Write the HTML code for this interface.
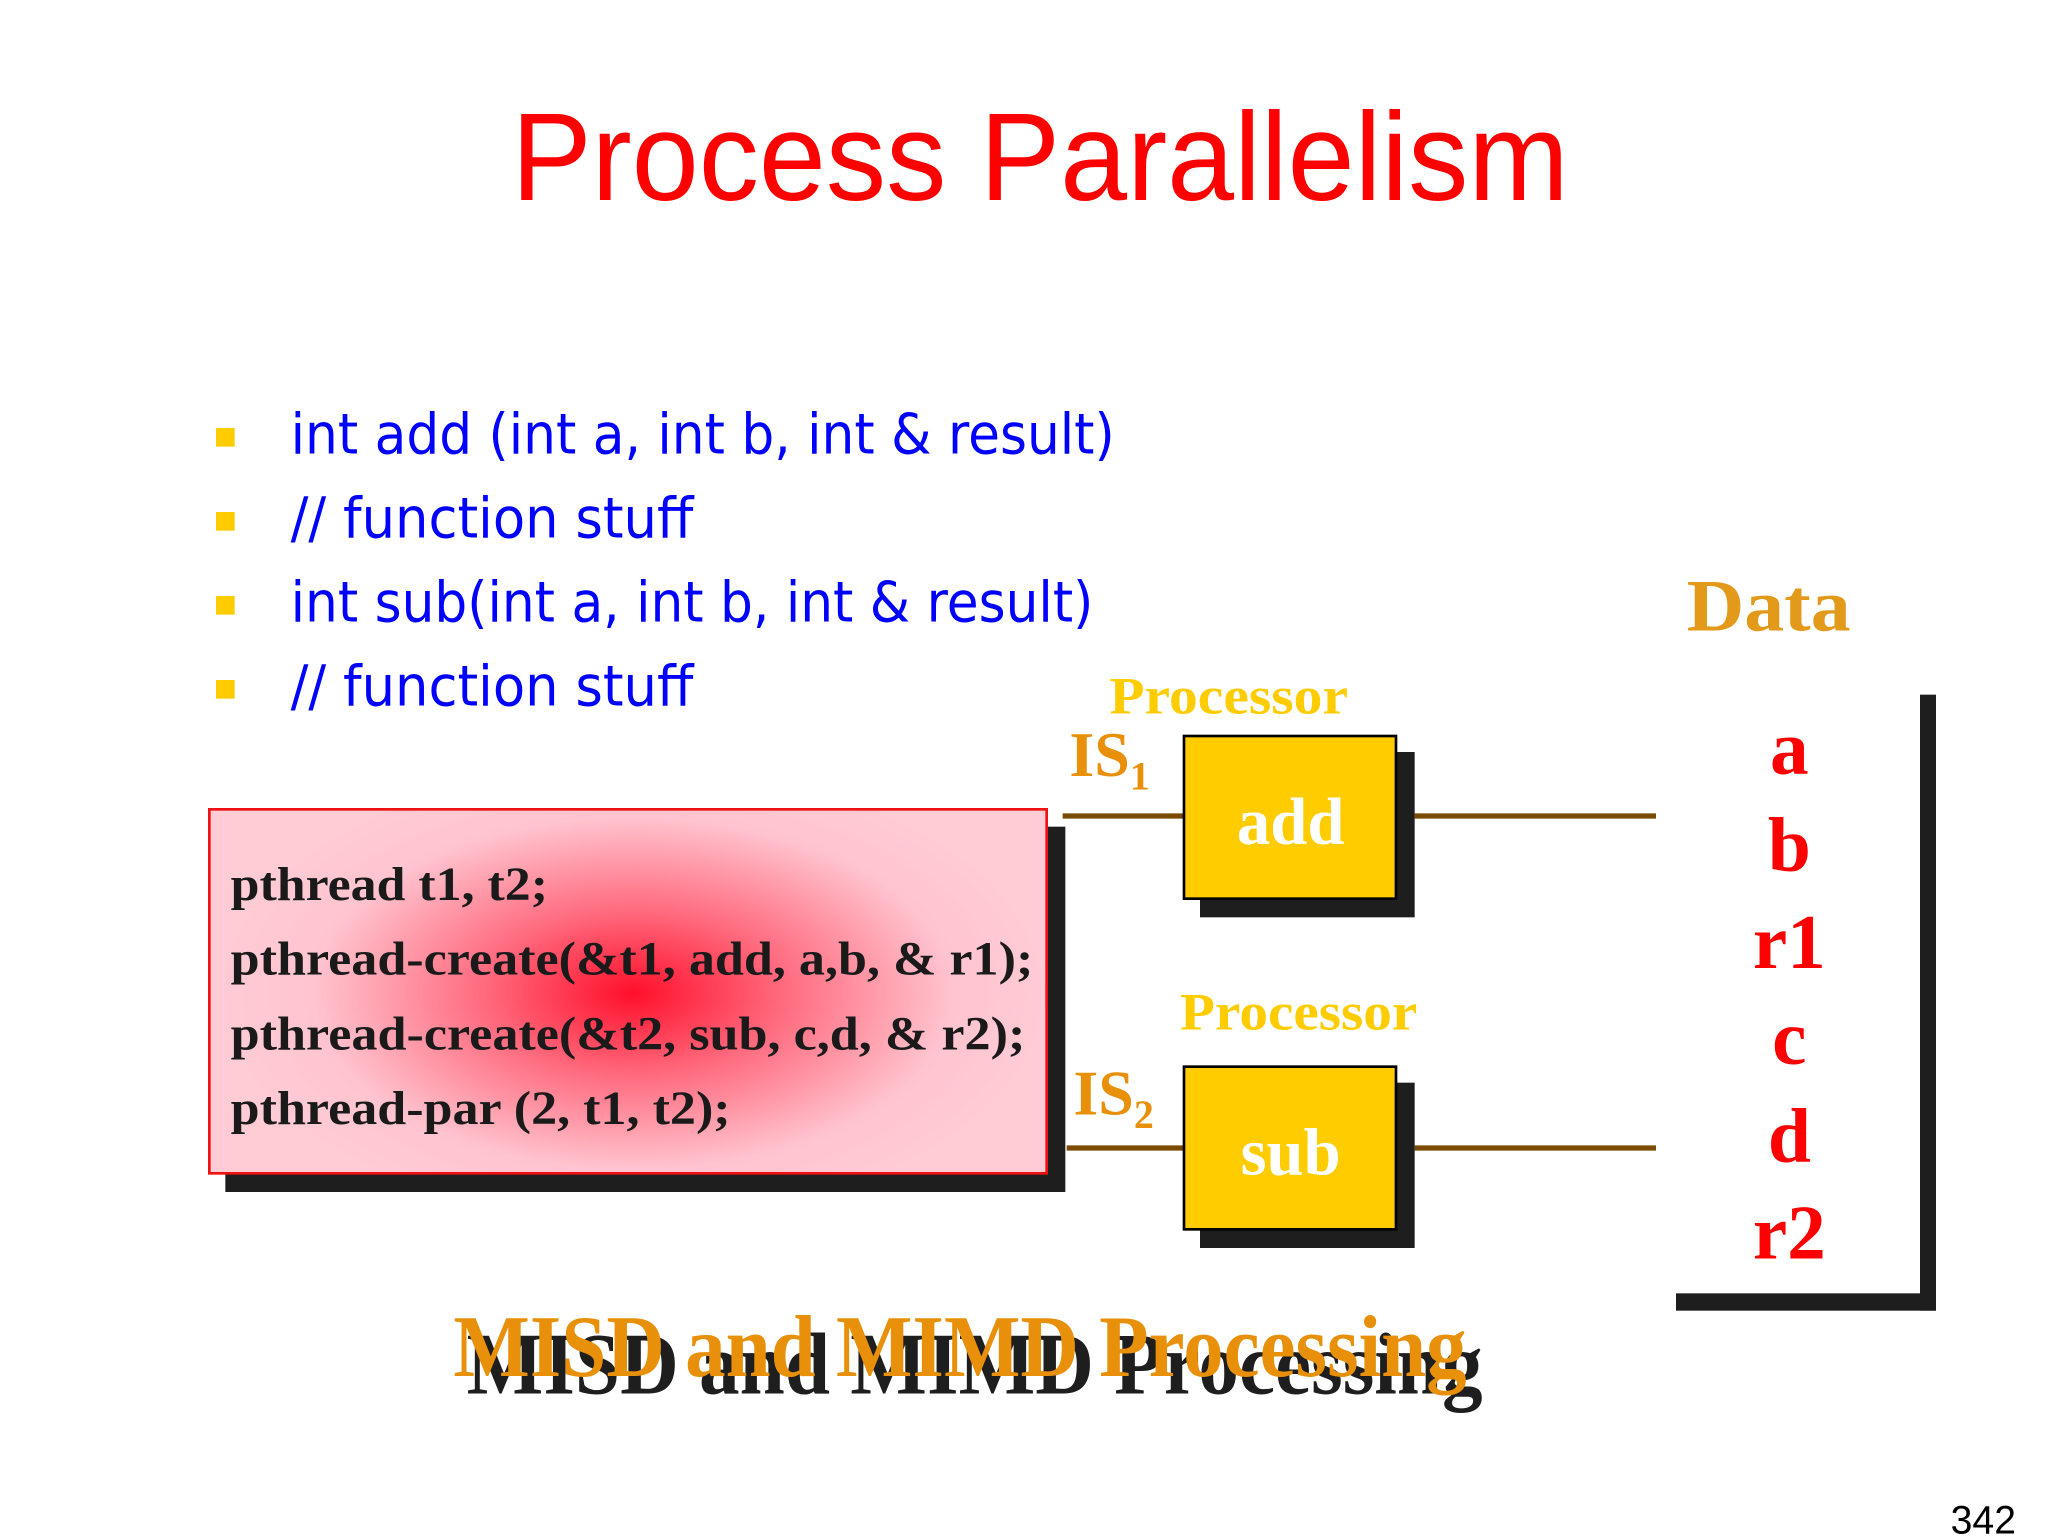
<!DOCTYPE html>
<html><head><meta charset="utf-8"><style>
html,body{margin:0;padding:0;background:#fff;width:2048px;height:1536px;overflow:hidden}
svg{display:block}
</style></head><body>
<svg width="2048" height="1536" viewBox="0 0 1536 1152" preserveAspectRatio="none" xmlns="http://www.w3.org/2000/svg">
<defs>
<radialGradient id="rg" cx="475" cy="745" r="320" gradientUnits="userSpaceOnUse" gradientTransform="translate(475 745) scale(1 0.55) translate(-475 -745)">
<stop offset="0" stop-color="#ff0f2a"/>
<stop offset="0.35" stop-color="#ff6a7e"/>
<stop offset="0.75" stop-color="#ffc4cf"/>
<stop offset="1" stop-color="#ffccd6"/>
</radialGradient>
</defs>
<rect width="1536" height="1152" fill="#fff"/>
<text x="780" y="150" text-anchor="middle" font-family="Liberation Sans, sans-serif" font-size="94" fill="#ff0000" textLength="793" lengthAdjust="spacingAndGlyphs">Process Parallelism</text>

<g fill="#ffcc00">
<rect x="162" y="321" width="14" height="14"/>
<rect x="162" y="384" width="14" height="14"/>
<rect x="162" y="447" width="14" height="14"/>
<rect x="162" y="510" width="14" height="14"/>
</g>
<g font-family="DejaVu Sans, sans-serif" font-size="42" fill="#0000ff">
<text x="218" y="340" textLength="618" lengthAdjust="spacingAndGlyphs">int add (int a, int b, int &amp; result)</text>
<text x="218" y="403" textLength="302" lengthAdjust="spacingAndGlyphs">// function stuff</text>
<text x="218" y="466" textLength="602" lengthAdjust="spacingAndGlyphs">int sub(int a, int b, int &amp; result)</text>
<text x="218" y="529" textLength="302" lengthAdjust="spacingAndGlyphs">// function stuff</text>
</g>

<text x="1265" y="473" font-family="Liberation Serif, serif" font-weight="bold" font-size="56" fill="#e39a1a" textLength="123" lengthAdjust="spacingAndGlyphs">Data</text>
<rect x="1440" y="521" width="12" height="462" fill="#1e1e1e"/>
<rect x="1257" y="970" width="195" height="13" fill="#1e1e1e"/>
<g font-family="Liberation Serif, serif" font-weight="bold" font-size="58" fill="#ff0000" text-anchor="middle">
<text x="1342" y="580">a</text>
<text x="1342" y="653">b</text>
<text x="1342" y="726">r1</text>
<text x="1342" y="798">c</text>
<text x="1342" y="871">d</text>
<text x="1342" y="944">r2</text>
</g>

<g stroke="#7a4a00" stroke-width="4">
<line x1="797" y1="612" x2="888" y2="612"/>
<line x1="1061" y1="612" x2="1242" y2="612"/>
<line x1="800" y1="861" x2="888" y2="861"/>
<line x1="1061" y1="861" x2="1242" y2="861"/>
</g>

<g font-family="Liberation Serif, serif" font-weight="bold" fill="#ffcc00" font-size="40">
<text x="832" y="535" textLength="179" lengthAdjust="spacingAndGlyphs">Processor</text>
<text x="885" y="772" textLength="178" lengthAdjust="spacingAndGlyphs">Processor</text>
</g>
<g font-family="Liberation Serif, serif" font-weight="bold" fill="#e8900a">
<text x="802" y="582" font-size="48">IS<tspan font-size="30" dy="10">1</tspan></text>
<text x="805" y="836" font-size="48">IS<tspan font-size="30" dy="10">2</tspan></text>
</g>

<rect x="900" y="564" width="161" height="124" fill="#1e1e1e"/>
<rect x="888" y="552" width="159" height="122" fill="#ffcc00" stroke="#000" stroke-width="2"/>
<rect x="900" y="812" width="161" height="124" fill="#1e1e1e"/>
<rect x="888" y="800" width="159" height="122" fill="#ffcc00" stroke="#000" stroke-width="2"/>
<g font-family="Liberation Serif, serif" font-weight="bold" fill="#fff" font-size="50" text-anchor="middle">
<text x="968" y="633">add</text>
<text x="968" y="881">sub</text>
</g>

<rect x="169" y="620" width="630" height="274" fill="#1e1e1e"/>
<rect x="157" y="607" width="628" height="273" fill="url(#rg)" stroke="#ee1111" stroke-width="2"/>
<g font-family="Liberation Serif, serif" font-weight="bold" fill="#1a1a1a" font-size="36">
<text x="173" y="675" textLength="238" lengthAdjust="spacingAndGlyphs">pthread t1, t2;</text>
<text x="173" y="731" textLength="602" lengthAdjust="spacingAndGlyphs">pthread-create(&amp;t1, add, a,b, &amp; r1);</text>
<text x="173" y="787" textLength="596" lengthAdjust="spacingAndGlyphs">pthread-create(&amp;t2, sub, c,d, &amp; r2);</text>
<text x="173" y="843" textLength="375" lengthAdjust="spacingAndGlyphs">pthread-par (2, t1, t2);</text>
</g>

<g font-family="Liberation Serif, serif" font-weight="bold" font-size="66">
<text x="350" y="1045" fill="#1e1e1e" textLength="762" lengthAdjust="spacingAndGlyphs">MISD and MIMD Processing</text>
<text x="340" y="1032" fill="#e8900a" textLength="760" lengthAdjust="spacingAndGlyphs">MISD and MIMD Processing</text>
</g>

<text x="1463" y="1150" font-family="Liberation Sans, sans-serif" font-size="30" fill="#000" textLength="49" lengthAdjust="spacingAndGlyphs">342</text>
</svg>
</body></html>
